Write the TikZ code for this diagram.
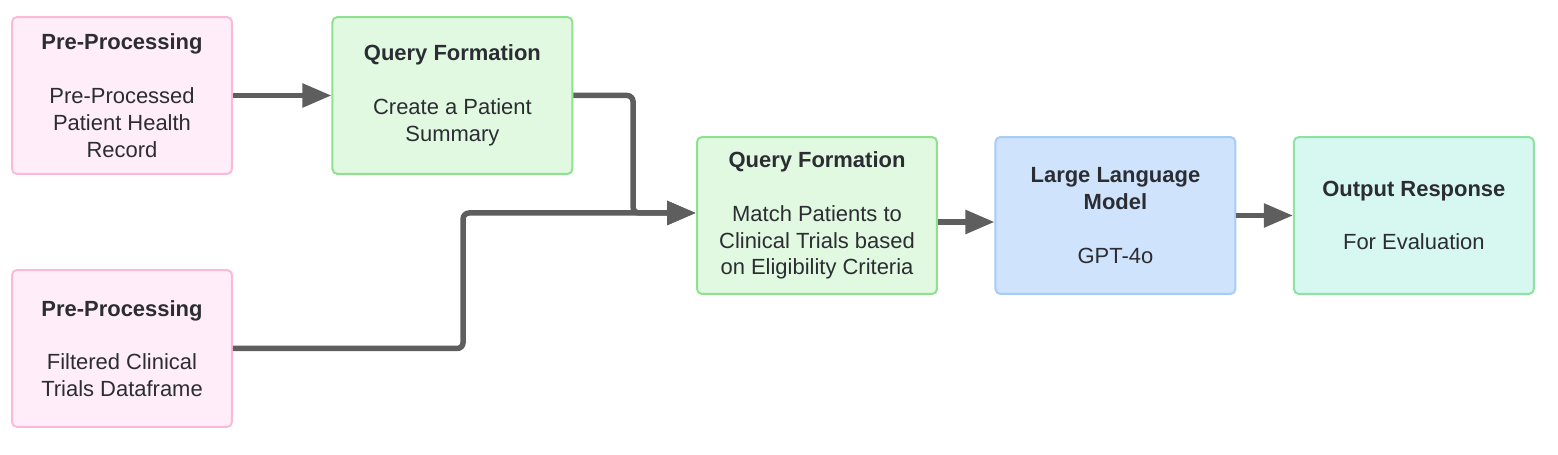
\documentclass[tikz,border=0pt]{standalone}
\usepackage{fontspec}
\setmainfont{Liberation Sans}
\usepackage{xcolor}
\usepackage{tikz}
\usetikzlibrary{positioning,calc,arrows.meta}
\definecolor{PinkFill}{HTML}{FFEEF9}
\definecolor{PinkLine}{HTML}{FBBAD8}
\definecolor{GreenFill}{HTML}{E2F9E1}
\definecolor{GreenLine}{HTML}{8EE28E}
\definecolor{BlueFill}{HTML}{CFE3FD}
\definecolor{BlueLine}{HTML}{A8CBF7}
\definecolor{TealFill}{HTML}{D7F8F1}
\definecolor{TealLine}{HTML}{8EE3A3}
\definecolor{FlowGray}{HTML}{5E5E5E}
\definecolor{InkDark}{HTML}{2B2D33}
\tikzset{
    stage/.style={rectangle, rounded corners=0.1cm, line width=0.04cm, align=center,
        text=InkDark, minimum width=4.8cm, minimum height=3.14cm, inner sep=2pt,
        font=\fontsize{12.5}{15.3}\selectfont},
    prepbox/.style={stage, draw=PinkLine, fill=PinkFill, minimum width=4.4cm},
    querybox/.style={stage, draw=GreenLine, fill=GreenFill},
    modelbox/.style={stage, draw=BlueLine, fill=BlueFill},
    outbox/.style={stage, draw=TealLine, fill=TealFill}
}

\begin{document}
\begin{tikzpicture}[
        x=0.02cm, y=-0.02cm,
        % --- connectors ---
        flow/.style={draw=FlowGray, line width=0.11cm, rounded corners=0.12cm,
            -{Triangle[length=0.58cm, width=0.46cm]}}
    ]
        \useasboundingbox (0,0) rectangle (1558,455);

        % --- inputs ---
        \node[prepbox] (prep1) at (122,95.5) {\textbf{Pre-Processing}\\[15.3pt]Pre-Processed\\Patient Health\\Record};
        \node[prepbox] (prep2) at (122,348.5) {\textbf{Pre-Processing}\\[15.3pt]Filtered Clinical\\Trials Dataframe};

        % --- query formation ---
        \node[querybox, right=1.97cm of prep1] (qform1) {\textbf{Query Formation}\\[15.3pt]Create a Patient\\Summary};
        \node[querybox] (qform2) at (817,215.5) {\textbf{Query Formation}\\[15.3pt]Match Patients to\\Clinical Trials based\\on Eligibility Criteria};

        % --- model and output ---
        \node[modelbox, right=1.13cm of qform2] (llm) {\textbf{Large Language}\\\textbf{Model}\\[15.3pt]GPT-4o};
        \node[outbox, right=1.13cm of llm] (output) {\textbf{Output Response}\\[15.3pt]For Evaluation};

        % --- merge points ---
        \coordinate (merge) at ([xshift=-1.26cm, yshift=0.05cm]qform2.west);
        \coordinate (bend) at ([xshift=-4.66cm, yshift=0.05cm]qform2.west);

        \draw[flow] (prep1.east) -- (qform1.west);
        \draw[flow] (qform1.east) -| (merge) -- ([yshift=0.05cm]qform2.west);
        \draw[flow] (prep2.east) -| (bend) -- ([yshift=0.05cm]qform2.west);
        \draw[flow] ([yshift=-0.13cm]qform2.east) -- ([yshift=-0.13cm]llm.west);
        \draw[flow] (llm.east) -- (output.west);

    \end{tikzpicture}
\end{document}
